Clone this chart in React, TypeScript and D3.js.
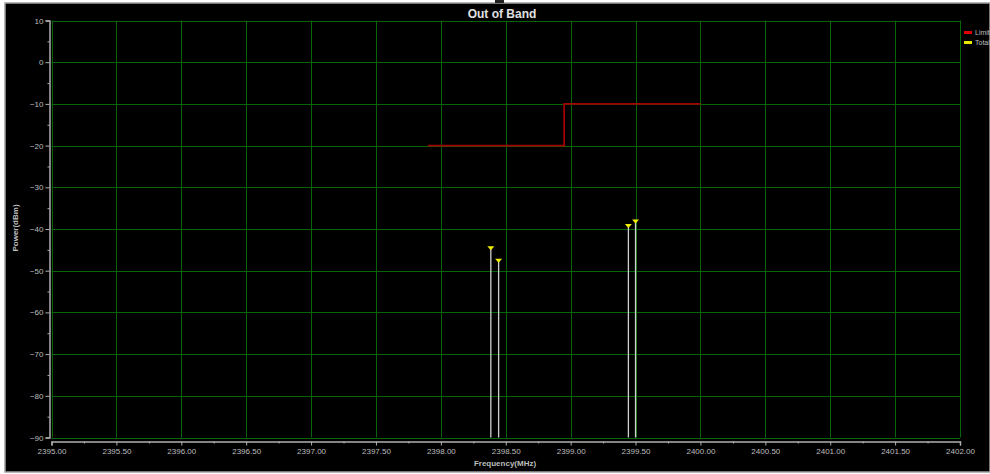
import { useRef, useEffect } from 'react';
import * as d3 from 'd3';

// limit line (step) points
const limitFreq = [2397.9, 2398.95, 2398.95, 2400.0];
const limitPower = [-20, -20, -10, -10];

// peak markers
const peakFreq = [2398.385, 2398.445, 2399.445, 2399.5];
const peakPower = [-44.6, -47.6, -39.3, -38.2];

const xTicks = d3.range(2395, 2402.001, 0.5);
const yTicks = d3.range(-90, 10.001, 10);

const legendNames = ['Limit', 'Total'];
const legendColors = ['#e00000', '#e8e800'];

function App() {
    const ref = useRef<SVGSVGElement>(null);

    useEffect(() => {
        const svg = d3.select(ref.current);
        svg.selectAll('*').remove();

        const W = 990, H = 474;
        const left = 51.5, right = 960, top = 20.5, bottom = 437.5;
        const txt = '#bdbdbd';
        const font = 'Liberation Sans, Arial, sans-serif';

        svg.append('rect').attr('width', W).attr('height', H).attr('fill', '#fff');
        svg.append('rect')
            .attr('x', 5).attr('y', 3).attr('width', W - 5).attr('height', 469)
            .attr('fill', '#000').attr('stroke', '#a0a0a0').attr('stroke-width', 1.5);
        svg.append('rect').attr('x', 495).attr('y', 0).attr('width', 9).attr('height', 3).attr('fill', '#222');

        const x = d3.scaleLinear().domain([2395, 2402]).range([left, right]);
        const y = d3.scaleLinear().domain([-90, 10]).range([bottom, top]);

        // grid
        const grid = svg.append('g').attr('stroke', '#086408').attr('stroke-width', 1);
        grid.selectAll('.vx').data(xTicks).enter().append('line')
            .attr('x1', d => Math.round(x(d)) + 0.5).attr('x2', d => Math.round(x(d)) + 0.5)
            .attr('y1', top).attr('y2', bottom);
        grid.selectAll('.hy').data(yTicks).enter().append('line')
            .attr('x1', left).attr('x2', right)
            .attr('y1', d => Math.round(y(d)) + 0.5).attr('y2', d => Math.round(y(d)) + 0.5);

        // axes
        const yAxis = svg.append('g')
            .attr('transform', `translate(${left - 2},0)`)
            .call(d3.axisLeft(y).tickValues(yTicks).tickSize(4).tickPadding(2).tickFormat(d3.format('d')));
        svg.append('g')
            .attr('transform', `translate(${left - 2},0)`)
            .call(d3.axisLeft(y).tickValues(d3.range(-85, 10, 10)).tickSize(2).tickFormat(() => ''))
            .select('.domain').remove();

        const xAxis = svg.append('g')
            .attr('transform', `translate(0,${bottom + 4})`)
            .call(d3.axisBottom(x).tickValues(xTicks).tickSize(4).tickPadding(3).tickFormat(d3.format('.2f')));
        svg.append('g')
            .attr('transform', `translate(0,${bottom + 4})`)
            .call(d3.axisBottom(x).tickValues(d3.range(2395.25, 2402, 0.5)).tickSize(2).tickFormat(() => ''))
            .select('.domain').remove();

        svg.selectAll('.domain').attr('stroke', '#b0b0b0').attr('stroke-width', 1.5);
        svg.selectAll('.tick line').attr('stroke', '#b0b0b0');
        [yAxis, xAxis].forEach(a => a.selectAll('text')
            .attr('fill', txt).style('font-family', font).style('font-size', '8px'));

        // limit line
        const line = d3.line<number>()
            .x(i => x(limitFreq[i]))
            .y(i => y(limitPower[i]));
        svg.append('path')
            .datum(d3.range(limitFreq.length))
            .attr('d', line)
            .attr('fill', 'none')
            .attr('stroke', '#a00000')
            .attr('stroke-width', 1.8);

        // stems
        svg.selectAll('.stem').data(peakFreq).enter().append('line')
            .attr('x1', d => x(d)).attr('x2', d => x(d))
            .attr('y1', (d, i) => y(peakPower[i]))
            .attr('y2', bottom)
            .attr('stroke', '#cfcfcf').attr('stroke-width', 1.3);

        // markers
        svg.selectAll('.mark').data(peakFreq).enter().append('path')
            .attr('d', (d, i) => {
                const cx = x(d), cy = y(peakPower[i]);
                return `M${cx - 3.5},${cy - 2}L${cx + 3.5},${cy - 2}L${cx},${cy + 2}Z`;
            })
            .attr('fill', '#f0f000');

        // title
        svg.append('text')
            .attr('x', 502).attr('y', 18)
            .attr('text-anchor', 'middle')
            .attr('fill', '#e0e0e0')
            .style('font-family', font).style('font-size', '12px').style('font-weight', 'bold')
            .text('Out of Band');

        // axis titles
        svg.append('text')
            .attr('x', 505).attr('y', 466)
            .attr('text-anchor', 'middle')
            .attr('fill', txt)
            .style('font-family', font).style('font-size', '8px').style('font-weight', 'bold')
            .text('Frequency(MHz)');
        svg.append('text')
            .attr('transform', 'translate(18,228) rotate(-90)')
            .attr('text-anchor', 'middle')
            .attr('fill', txt)
            .style('font-family', font).style('font-size', '8px').style('font-weight', 'bold')
            .text('Power(dBm)');

        // legend
        const lg = svg.append('g');
        legendNames.forEach((name, i) => {
            lg.append('rect')
                .attr('x', 964).attr('y', 31 + i * 10).attr('width', 8).attr('height', 3)
                .attr('fill', legendColors[i]);
            lg.append('text')
                .attr('x', 975).attr('y', 35 + i * 10)
                .attr('fill', txt)
                .style('font-family', font).style('font-size', '7px')
                .text(name);
        });
    }, []);

    return (
        <svg ref={ref} width={990} height={474}
            style={{ position: 'absolute', left: 0, top: 0, display: 'block' }} />
    );
}

export default App;
